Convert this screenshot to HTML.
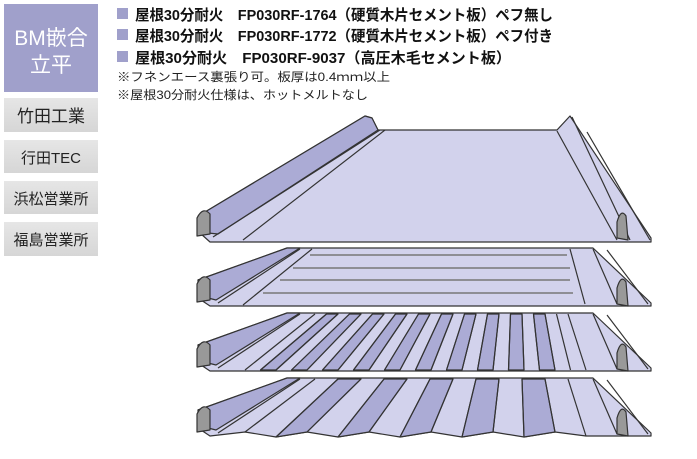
<!DOCTYPE html>
<html><head><meta charset="utf-8"><style>
html,body{margin:0;padding:0;background:#fff;width:697px;height:459px;overflow:hidden}
svg{display:block}
text{font-family:"Liberation Sans","Noto Sans CJK JP",sans-serif}
</style></head><body>
<svg width="697" height="459" viewBox="0 0 697 459" xmlns="http://www.w3.org/2000/svg">
<defs><linearGradient id="g" x1="0" y1="0" x2="0" y2="1"><stop offset="0" stop-color="#e6e6e6"/><stop offset="1" stop-color="#d6d6d6"/></linearGradient></defs>
<!-- left boxes -->
<rect x="4" y="4" width="94" height="88" fill="#a0a0cb"/>
<text x="51" y="45" font-size="21" fill="#fff" text-anchor="middle">BM嵌合</text>
<text x="51" y="72" font-size="21" fill="#fff" text-anchor="middle">立平</text>
<rect x="4" y="98" width="94" height="34" fill="url(#g)"/>
<text x="51" y="122" font-size="17" fill="#222" text-anchor="middle">竹田工業</text>
<rect x="4" y="140" width="94" height="33" fill="url(#g)"/>
<text x="51" y="163" font-size="15" fill="#222" text-anchor="middle">行田TEC</text>
<rect x="4" y="181" width="94" height="33" fill="url(#g)"/>
<text x="51" y="204" font-size="15" fill="#222" text-anchor="middle">浜松営業所</text>
<rect x="4" y="222" width="94" height="34" fill="url(#g)"/>
<text x="51" y="245" font-size="15" fill="#222" text-anchor="middle">福島営業所</text>
<!-- legend -->
<rect x="117" y="8" width="11" height="11" fill="#a0a0cb"/>
<rect x="117" y="29" width="11" height="11" fill="#a0a0cb"/>
<rect x="117" y="51" width="11" height="11" fill="#a0a0cb"/>
<text x="135" y="20" font-size="15" font-weight="bold" fill="#111" textLength="418" lengthAdjust="spacingAndGlyphs">屋根30分耐火　FP030RF-1764（硬質木片セメント板）ペフ無し</text>
<text x="135" y="41" font-size="15" font-weight="bold" fill="#111" textLength="418" lengthAdjust="spacingAndGlyphs">屋根30分耐火　FP030RF-1772（硬質木片セメント板）ペフ付き</text>
<text x="135" y="63" font-size="15" font-weight="bold" fill="#111" textLength="376" lengthAdjust="spacingAndGlyphs">屋根30分耐火　FP030RF-9037（高圧木毛セメント板）</text>
<text x="117" y="81" font-size="12" fill="#222" textLength="273" lengthAdjust="spacingAndGlyphs">※フネンエース裏張り可。板厚は0.4ｍｍ以上</text>
<text x="117" y="99" font-size="12" fill="#222" textLength="251" lengthAdjust="spacingAndGlyphs">※屋根30分耐火仕様は、ホットメルトなし</text>

<g stroke="#333" stroke-width="1.2" stroke-linejoin="round">
<!-- panel 1 -->
<polygon points="200,215 365,116 372,118 378,130 557,130 570,116 651,238 651,242 210,242 200,233" fill="#d2d2ec"/>
<polygon points="200,215 365,116 372,118 378,130 218,234 208,233" fill="#ababd5"/>
<line x1="213" y1="237" x2="380" y2="130"/>
<line x1="243" y1="240" x2="385" y2="130"/>
<line x1="557" y1="131" x2="617" y2="240"/>
<line x1="572" y1="117" x2="630" y2="240"/>
<line x1="587" y1="132" x2="650" y2="240"/>
<path d="M197,236 L197,218 Q203,206 210,214 L210,234 Z" fill="#999"/>
<path d="M617,238 L617,222 Q621,208 626,216 L628,240 Z" fill="#999"/>

<!-- panel 2 -->
<polygon points="198,280 287,248 593,248 651,303 651,306 210,306 198,298" fill="#d2d2ec"/>
<polygon points="198,280 287,248 300,248 216,300 208,298" fill="#ababd5"/>
<line x1="218" y1="303" x2="300" y2="249"/>
<line x1="243" y1="305" x2="312" y2="249"/>
<line x1="570" y1="249" x2="585" y2="304"/>
<line x1="593" y1="249" x2="617" y2="304"/>
<line x1="607" y1="250" x2="648" y2="304"/>
<g stroke="#777" stroke-width="1.5"><line x1="310" y1="255" x2="567" y2="255"/><line x1="293" y1="268" x2="570" y2="268"/><line x1="280" y1="280" x2="570" y2="280"/><line x1="263" y1="293" x2="573" y2="293"/></g>
<path d="M197,302 L197,284 Q203,272 210,280 L210,300 Z" fill="#999"/>
<path d="M617,304 L617,288 Q621,274 626,282 L628,306 Z" fill="#999"/>

<!-- panel 3 -->
<polygon points="198,345 287,313 593,313 651,368 651,371 210,371 198,363" fill="#d2d2ec"/>
<polygon points="198,345 287,313 300,313 216,365 208,363" fill="#ababd5"/>
<g fill="#ababd5">
<polygon points="326.5,314 338,314 276,370 260.5,370"/>
<polygon points="349.5,314 361,314 307,370 291.5,370"/>
<polygon points="372.5,314 384,314 338,370 322.5,370"/>
<polygon points="395.5,314 407,314 369,370 353.5,370"/>
<polygon points="418.5,314 430,314 400,370 384.5,370"/>
<polygon points="441.5,314 453,314 431,370 415.5,370"/>
<polygon points="464.5,314 476,314 462,370 446.5,370"/>
<polygon points="487.5,314 499,314 493,370 477.5,370"/>
<polygon points="510.5,314 522,314 524,370 508.5,370"/>
<polygon points="533.5,314 545,314 555,370 539.5,370"/>
</g>
<g>
<line x1="245" y1="370" x2="315" y2="314"/><line x1="260.5" y1="370" x2="326.5" y2="314"/><line x1="276" y1="370" x2="338" y2="314"/><line x1="291.5" y1="370" x2="349.5" y2="314"/><line x1="307" y1="370" x2="361" y2="314"/><line x1="322.5" y1="370" x2="372.5" y2="314"/><line x1="338" y1="370" x2="384" y2="314"/><line x1="353.5" y1="370" x2="395.5" y2="314"/><line x1="369" y1="370" x2="407" y2="314"/><line x1="384.5" y1="370" x2="418.5" y2="314"/><line x1="400" y1="370" x2="430" y2="314"/><line x1="415.5" y1="370" x2="441.5" y2="314"/><line x1="431" y1="370" x2="453" y2="314"/><line x1="446.5" y1="370" x2="464.5" y2="314"/><line x1="462" y1="370" x2="476" y2="314"/><line x1="477.5" y1="370" x2="487.5" y2="314"/><line x1="493" y1="370" x2="499" y2="314"/><line x1="508.5" y1="370" x2="510.5" y2="314"/><line x1="524" y1="370" x2="522" y2="314"/><line x1="539.5" y1="370" x2="533.5" y2="314"/><line x1="555" y1="370" x2="545" y2="314"/><line x1="570.5" y1="370" x2="556.5" y2="314"/><line x1="586" y1="370" x2="568" y2="314"/>
</g>
<line x1="218" y1="368" x2="300" y2="314"/>
<line x1="593" y1="314" x2="617" y2="369"/>
<line x1="607" y1="315" x2="648" y2="369"/>
<path d="M197,367 L197,349 Q203,337 210,345 L210,365 Z" fill="#999"/>
<path d="M617,369 L617,353 Q621,339 626,347 L628,371 Z" fill="#999"/>

<!-- panel 4 -->
<polygon points="198,410 287,378 593,378 651,433 651,436 586,436 555,432 524,437 493,432 462,437 431,432 400,437 369,432 338,437 307,432 276,437 245,432 210,436 198,428" fill="#d2d2ec"/>
<polygon points="198,410 287,378 300,378 216,430 208,428" fill="#ababd5"/>
<g fill="#ababd5">
<polygon points="338,379 361,379 307,432 276,437"/>
<polygon points="384,379 407,379 369,432 338,437"/>
<polygon points="430,379 453,379 431,432 400,437"/>
<polygon points="476,379 499,379 493,432 462,437"/>
<polygon points="522,379 545,379 555,432 524,437"/>
</g>
<g>
<line x1="245" y1="432" x2="315" y2="379"/><line x1="276" y1="437" x2="338" y2="379"/><line x1="307" y1="432" x2="361" y2="379"/><line x1="338" y1="437" x2="384" y2="379"/><line x1="369" y1="432" x2="407" y2="379"/><line x1="400" y1="437" x2="430" y2="379"/><line x1="431" y1="432" x2="453" y2="379"/><line x1="462" y1="437" x2="476" y2="379"/><line x1="493" y1="432" x2="499" y2="379"/><line x1="524" y1="437" x2="522" y2="379"/><line x1="555" y1="432" x2="545" y2="379"/><line x1="586" y1="436" x2="568" y2="379"/>
</g>
<line x1="218" y1="433" x2="300" y2="379"/>
<line x1="593" y1="379" x2="617" y2="434"/>
<line x1="607" y1="380" x2="648" y2="434"/>
<path d="M197,432 L197,414 Q203,402 210,410 L210,430 Z" fill="#999"/>
<path d="M617,434 L617,418 Q621,404 626,412 L628,436 Z" fill="#999"/>
</g>
</svg>
</body></html>
